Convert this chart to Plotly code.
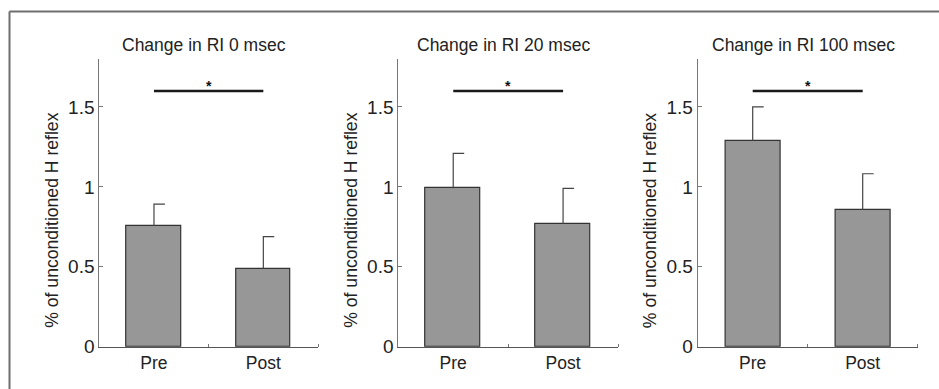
import plotly.graph_objects as go

# ---- data ----
categories = ["Pre", "Post"]
panel_titles = ["Change in RI 0 msec", "Change in RI 20 msec", "Change in RI 100 msec"]
means_0ms = [0.756, 0.487]
err_0ms = [0.136, 0.202]
means_20ms = [0.992, 0.767]
err_20ms = [0.218, 0.223]
means_100ms = [1.287, 0.857]
err_100ms = [0.213, 0.225]
sig_level = [1.6, 1.6, 1.6]
y_ticks = [0, 0.5, 1, 1.5]
y_tick_text = ["0", "0.5", "1", "1.5"]
y_title = "% of unconditioned H reflex"

means = [means_0ms, means_20ms, means_100ms]
errs = [err_0ms, err_20ms, err_100ms]

FONT = "Liberation Sans, Arial, sans-serif"
W, H = 939, 389
x_domains = [(99.3 / W, 318 / W), (398.3 / W, 618 / W), (697.7 / W, 917.7 / W)]
y_domain = ((H - 346.7) / H, (H - 59) / H)

fig = go.Figure()
pos = list(range(len(categories)))

for k in range(3):
    xa = "x" if k == 0 else f"x{k+1}"
    ya = "y" if k == 0 else f"y{k+1}"
    fig.add_trace(go.Bar(
        x=pos, y=means[k], width=0.5, xaxis=xa, yaxis=ya,
        marker=dict(color="#979797", line=dict(color="#333333", width=1.2)),
        showlegend=False, hoverinfo="skip",
    ))
    # error bars (upward, one-sided cap to the right)
    for i in pos:
        top = means[k][i] + errs[k][i]
        fig.add_trace(go.Scatter(
            x=[i, i, i + 0.1], y=[means[k][i], top, top], mode="lines",
            line=dict(color="#444444", width=1.2), xaxis=xa, yaxis=ya,
            showlegend=False, hoverinfo="skip",
        ))
    # significance bar
    fig.add_trace(go.Scatter(
        x=[pos[0], pos[1]], y=[sig_level[k], sig_level[k]], mode="lines",
        line=dict(color="#1a1a1a", width=2.6), xaxis=xa, yaxis=ya,
        showlegend=False, hoverinfo="skip",
    ))
    fig.add_annotation(x=(pos[0] + pos[1]) / 2, y=sig_level[k], xref=xa, yref=ya,
                       text="<b>*</b>", showarrow=False, yshift=5,
                       font=dict(size=14, color="#111111", family=FONT))
    # panel title
    fig.add_annotation(x=0.48, y=(H - 45) / H, xref=f"{xa} domain", yref="paper",
                       xanchor="center", yanchor="middle", text=panel_titles[k], showarrow=False,
                       font=dict(size=17.5, color="#222222", family=FONT))
    # y axis title
    fig.add_annotation(x=0, y=0.79, xref=f"{xa} domain", yref=ya, xshift=-47,
                       xanchor="center", yanchor="middle",
                       text=y_title, textangle=-90, showarrow=False,
                       font=dict(size=17.6, color="#222222", family=FONT))

axis_common_x = dict(
    range=[-0.5, 1.5], tickvals=pos, ticktext=categories, ticks="",
    showline=True, linecolor="#555555", linewidth=1, showgrid=False, zeroline=False,
    tickfont=dict(size=17.5, color="#222222", family=FONT),
    minor=dict(tickvals=[0.5, 1.5], ticks="inside", ticklen=3, tickcolor="#777777"),
    fixedrange=True, automargin=False,
)
axis_common_y = dict(
    range=[0, 1.8], tickvals=y_ticks, ticktext=y_tick_text, ticks="inside", ticklen=4,
    tickcolor="#777777", showline=True, linecolor="#777777", linewidth=1,
    showgrid=False, zeroline=False,
    tickfont=dict(size=19, color="#222222", family=FONT), fixedrange=True, automargin=False,
)

layout = dict(
    width=W, height=H, margin=dict(l=0, r=0, t=0, b=0, autoexpand=False),
    plot_bgcolor="white", paper_bgcolor="white", bargap=0,
    font=dict(family=FONT, color="#222222"), showlegend=False,
)
for k in range(3):
    sx = "" if k == 0 else str(k + 1)
    layout[f"xaxis{sx}"] = dict(axis_common_x, domain=list(x_domains[k]), anchor=f"y{sx}")
    layout[f"yaxis{sx}"] = dict(axis_common_y, domain=list(y_domain), anchor=f"x{sx}")

fig.update_layout(**layout)

# figure frame (top and left edges visible in the cropped original)
fig.add_shape(type="line", xref="paper", yref="paper", x0=9.5 / W, x1=1, y0=(H - 11.5) / H, y1=(H - 11.5) / H,
              line=dict(color="#6e6e6e", width=2))
fig.add_shape(type="line", xref="paper", yref="paper", x0=9.5 / W, x1=9.5 / W, y0=0, y1=(H - 11.5) / H,
              line=dict(color="#6e6e6e", width=2))

fig.write_html("out.html", post_script="document.body.style.margin='0';",
               config={"displayModeBar": False})
